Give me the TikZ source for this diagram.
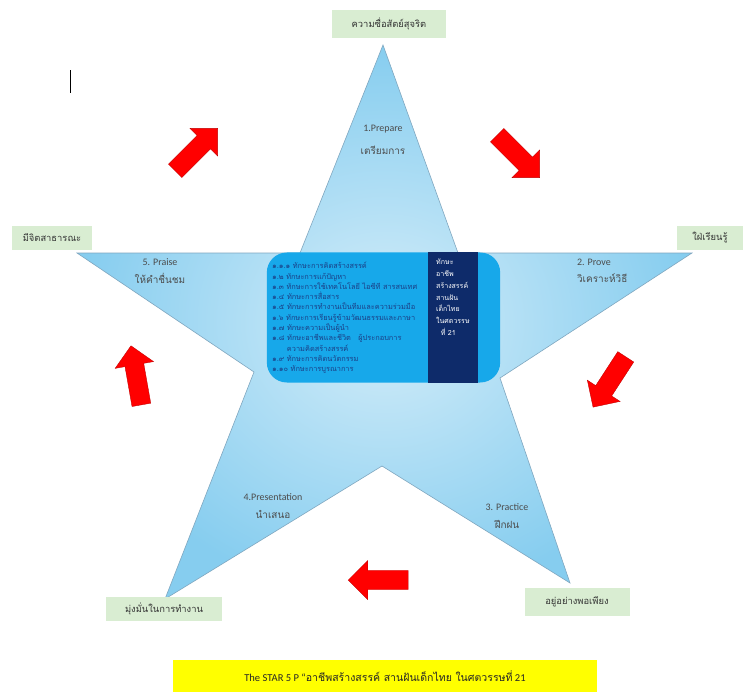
\documentclass[tikz,border=0pt]{standalone}
\usepackage{fontspec}
\setmainfont{Carlito}
\newfontfamily\thaifont[Script=Thai]{Loma}
\usetikzlibrary{shapes.arrows}

\definecolor{starin}{HTML}{D4EDF9}
\definecolor{starout}{HTML}{86CDEF}
\definecolor{staredge}{HTML}{7FA6BF}
\definecolor{labelgreen}{HTML}{D9EDD2}
\definecolor{boxblue}{HTML}{17A8EA}
\definecolor{boxnavy}{HTML}{0E2B6A}
\definecolor{listtext}{HTML}{1B3F86}
\definecolor{captionyellow}{HTML}{FFFF00}

\tikzset{
  valuebox/.style={fill=labelgreen, inner sep=2pt, text=black!80,
    font=\thaifont\fontsize{8}{9}\selectfont},
  armtext/.style={align=center, text=black!70, font=\fontsize{8.5}{15}\selectfont},
  cyclearrow/.style={single arrow, fill=red, draw=red!75!black, line width=0.3pt,
    minimum height=1.8cm, inner sep=0.28cm, single arrow head extend=0.3cm}
}

\begin{document}
\begin{tikzpicture}[x=0.03cm, y=-0.03cm]

        \useasboundingbox[fill=white] (0,0) rectangle (747,699);

        %text cursor
        \draw[line width=0.6pt] (70,70) -- (70,93);

        %Drawing the star
        \coordinate (tip1) at (383,45); %prepare
        \coordinate (in12) at (458,253);
        \coordinate (tip2) at (692,253); %prove
        \coordinate (in23) at (500,378);
        \coordinate (tip3) at (570,583); %practice
        \coordinate (in34) at (382,466);
        \coordinate (tip4) at (165,599); %presentation
        \coordinate (in45) at (254,372);
        \coordinate (tip5) at (77,253); %praise
        \coordinate (in51) at (300,253);
        \path[draw=staredge, line width=0.5pt, inner color=starin, outer color=starout]
            (tip1) -- (in12) -- (tip2) -- (in23) -- (tip3) -- (in34)
            -- (tip4) -- (in45) -- (tip5) -- (in51) -- cycle;

        %texts in the arms
        \node[armtext] (prepare) at (383,140) {1.Prepare\\[5pt]{\thaifont เตรียมการ}};
        \node[armtext, align=left, anchor=west] (prove) at (573,271) {2. Prove\\{\thaifont วิเคราะห์วิธี}};
        \node[armtext] (practice) at (507,516) {3. Practice\\{\thaifont ฝึกฝน}};
        \node[armtext] (presentation) at (273,506) {4.Presentation\\{\thaifont นำเสนอ}};
        \node[armtext] (praise) at (160,271) {5. Praise\\{\thaifont ให้คำชื่นชม}};

        %values at the tips
        \node[valuebox, minimum width=3.4cm, minimum height=0.85cm] (honest) at (389,24) {ความซื่อสัตย์สุจริต};
        \node[valuebox, minimum width=2cm, minimum height=0.7cm] (learn) at (710,238) {ใฝ่เรียนรู้};
        \node[valuebox, minimum width=2.4cm, minimum height=0.7cm] (publicmind) at (52,238) {มีจิตสาธารณะ};
        \node[valuebox, minimum width=3.15cm, minimum height=0.85cm] (sufficient) at (577,602) {อยู่อย่างพอเพียง};
        \node[valuebox, minimum width=3.5cm, minimum height=0.7cm] (dedicated) at (164,609) {มุ่งมั่นในการทำงาน};

        %skills box in the middle
        \node[fill=boxblue, rounded corners=0.6cm, minimum width=7cm, minimum height=3.9cm] (skillbox) at (383.5,317.5) {};
        \node[fill=boxnavy, anchor=north west, minimum width=1.5cm, minimum height=3.93cm, inner sep=0pt] (goalbar) at (428,252) {};
        \node[anchor=north west, align=left, text=white, inner sep=0pt,
            font=\thaifont\fontsize{6}{10}\selectfont] (goal) at (436,259)
            {ทักษะ\\อาชีพ\\สร้างสรรค์\\สานฝัน\\เด็กไทย\\ในศตวรรษ\\\ \ ที่ 21};
        \node[anchor=north west, align=left, text=listtext, inner sep=0pt,
            font=\thaifont\fontsize{6.3}{8.8}\selectfont] (skills) at (272,262)
            {๑.๑.๑ ทักษะการคิดสร้างสรรค์\\
             ๑.๒ ทักษะการแก้ปัญหา\\
             ๑.๓ ทักษะการใช้เทคโนโลยี ไอซีที สารสนเทศ\\
             ๑.๔ ทักษะการสื่อสาร\\
             ๑.๕ ทักษะการทำงานเป็นทีมและความร่วมมือ\\
             ๑.๖ ทักษะการเรียนรู้ข้ามวัฒนธรรมและภาษา\\
             ๑.๗ ทักษะความเป็นผู้นำ\\
             ๑.๘ ทักษะอาชีพและชีวิต \ \ ผู้ประกอบการ\\
             \qquad ความคิดสร้างสรรค์\\
             ๑.๙ ทักษะการคิดนวัตกรรม\\
             ๑.๑๐ ทักษะการบูรณาการ};

        %red arrows between the arms
        \node[cyclearrow, rotate=45] (arrow1) at (193,153) {};
        \node[cyclearrow, rotate=-45] (arrow2) at (515,153) {};
        \node[cyclearrow, rotate=-123] (arrow3) at (612,378) {};
        \node[cyclearrow, rotate=180] (arrow4) at (383,580) {};
        \node[cyclearrow, rotate=100] (arrow5) at (137,380) {};

        %caption
        \node[fill=captionyellow, minimum width=12.7cm, minimum height=0.95cm, text=black!85,
            font=\fontsize{9}{10}\selectfont] (caption) at (385,676)
            {The STAR 5 P “{\thaifont อาชีพสร้างสรรค์ สานฝันเด็กไทย ในศตวรรษที่} 21};

    \end{tikzpicture}
\end{document}
